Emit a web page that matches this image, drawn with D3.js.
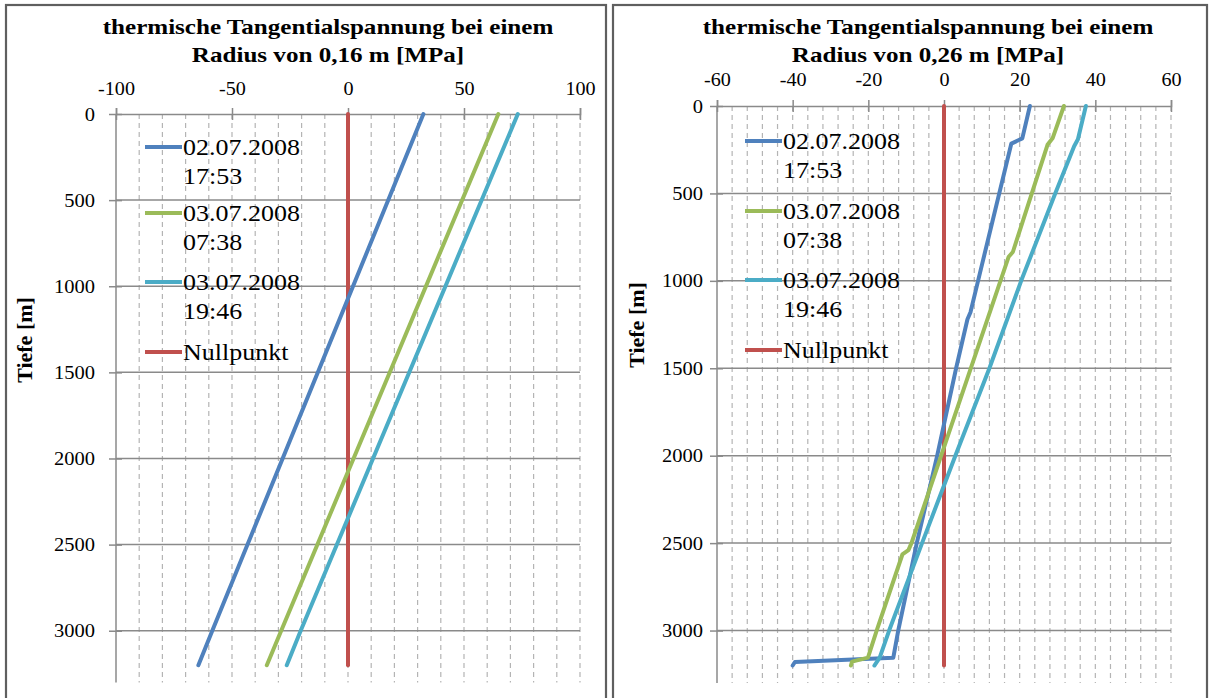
<!DOCTYPE html>
<html>
<head>
<meta charset="utf-8">
<script src="https://cdn.jsdelivr.net/npm/d3@7/dist/d3.min.js"></script>
<style>
  html, body { margin: 0; padding: 0; background: #fff; }
  svg { display: block; }
  text { font-family: "Liberation Serif", "Times New Roman", serif; fill: #000; }
</style>
</head>
<body>
<svg id="chart" width="1212" height="698"></svg>
<script>
// Series names (legend entries, two lines each)
const seriesNames = [["02.07.2008", "17:53"], ["03.07.2008", "07:38"], ["03.07.2008", "19:46"], ["Nullpunkt"]];
const seriesColors = ["#4F81BD", "#9BBB59", "#4BACC6", "#C0504D"];

// Panel titles
const titleLeft = ["thermische Tangentialspannung bei einem", "Radius von 0,16 m [MPa]"];
const titleRight = ["thermische Tangentialspannung bei einem", "Radius von 0,26 m [MPa]"];
const depthTitle = "Tiefe [m]";

// Axis ticks
const xTicksLeft = [-100, -50, 0, 50, 100];
const xTicksRight = [-60, -40, -20, 0, 20, 40, 60];
const depthTicks = [0, 500, 1000, 1500, 2000, 2500, 3000];

// Radius 0,16 m: [depth m, stress MPa]
const r016_s1 = [[0, 32.5], [3000, -58.5], [3200, -64.5]];
const r016_s2 = [[0, 64.8], [3000, -28.8], [3200, -35.0]];
const r016_s3 = [[0, 73.2], [3000, -20.4], [3200, -26.4]];
const r016_null = [[0, 0], [3200, 0]];

// Radius 0,26 m: [depth m, stress MPa]
const r026_s1 = [[0, 22.7], [185, 20.7], [215, 17.8], [1000, 9.0], [1180, 7.0], [1220, 6.2],
                 [1500, 3.2], [2000, -1.8], [2500, -7.2], [3000, -12.1], [3155, -13.4],
                 [3180, -39.4], [3200, -40.0]];
const r026_s2 = [[0, 31.7], [185, 28.7], [220, 27.4], [835, 18.2], [862, 17.1], [2500, -8.6],
                 [2540, -9.4], [2565, -11.0], [3000, -17.8], [3155, -20.1], [3178, -24.3], [3200, -24.6]];
const r026_s3 = [[0, 37.5], [190, 35.4], [230, 34.4], [500, 29.4], [1000, 20.4], [1500, 12.0],
                 [2000, 3.0], [2500, -5.8], [3000, -14.5], [3155, -17.0], [3200, -18.4]];
const r026_null = [[0, 0], [3200, 0]];

// the typeface in this layout runs a little wide
const WIDE = 1.14;

const svg = d3.select("#chart");

// text placed at (x, y) and widened horizontally about its anchor
function wideText(parent, x, y, str, opts) {
  const t = parent.append("text")
    .attr("transform", `translate(${x},${y}) scale(${opts.sx || WIDE},1)`)
    .attr("x", 0).attr("y", 0)
    .attr("font-size", opts.size)
    .attr("text-anchor", opts.anchor || "start")
    .text(str);
  if (opts.bold) t.attr("font-weight", "bold");
  return t;
}

function panel(cfg) {
  const g = svg.append("g");

  // frame
  g.append("rect")
    .attr("x", cfg.frame[0]).attr("y", cfg.frame[1])
    .attr("width", cfg.frame[2]).attr("height", cfg.frame[3])
    .attr("fill", "#fff").attr("stroke", "#5f5f5f").attr("stroke-width", 2.2);

  const x = d3.scaleLinear().domain(cfg.xDomain).range(cfg.xRange);
  const y = d3.scaleLinear().domain([0, 3300]).range(cfg.yRange);

  // minor vertical gridlines (dashed)
  const minor = d3.range(cfg.xDomain[0] + cfg.minorStep, cfg.xDomain[1] + cfg.minorStep / 2, cfg.minorStep);
  g.append("g").selectAll("line").data(minor).join("line")
    .attr("x1", d => x(d)).attr("x2", d => x(d))
    .attr("y1", y(0)).attr("y2", y(3300))
    .attr("stroke", "#b4b4b4").attr("stroke-width", 1.2)
    .attr("stroke-dasharray", "5,4");

  // major horizontal gridlines
  g.append("g").selectAll("line").data(depthTicks.filter(d => d > 0)).join("line")
    .attr("x1", x(cfg.xDomain[0])).attr("x2", x(cfg.xDomain[1]))
    .attr("y1", d => y(d)).attr("y2", d => y(d))
    .attr("stroke", "#8a8a8a").attr("stroke-width", 1.5);

  // top axis
  const xa = g.append("g").attr("transform", `translate(0,${y(0)})`)
    .call(d3.axisTop(x).tickValues(cfg.xTicks).tickSize(6).tickFormat(""));
  xa.select(".domain").attr("stroke", "#8a8a8a").attr("stroke-width", 1.5);
  xa.selectAll(".tick line").attr("y1", -6).attr("y2", 6).attr("stroke", "#8a8a8a").attr("stroke-width", 1.5);
  xa.selectAll(".tick").each(function (d) {
    wideText(d3.select(this), 0, -cfg.xLabelGap, d < 0 ? "-" + Math.abs(d) : String(d),
      { size: 18, anchor: "middle", sx: 1.12 });
  });

  // left axis
  const ya = g.append("g").attr("transform", `translate(${x(cfg.xDomain[0])},0)`)
    .call(d3.axisLeft(y).tickValues(depthTicks).tickSize(7).tickFormat(""));
  ya.select(".domain").attr("stroke", "#8a8a8a").attr("stroke-width", 1.5).attr("d", `M0,${y(0)}V${y(3300)}`);
  ya.selectAll(".tick line").attr("x1", -7).attr("x2", 6).attr("stroke", "#8a8a8a").attr("stroke-width", 1.5);
  ya.selectAll(".tick").each(function (d) {
    wideText(d3.select(this), -cfg.yLabelGap, 6, String(d), { size: 18, anchor: "end", sx: 1.14 });
  });

  // series
  const line = d3.line().x(d => x(d[1])).y(d => y(d[0]));
  const allSeries = [cfg.s1, cfg.s2, cfg.s3, cfg.nul];
  const order = [3, 0, 1, 2];
  order.forEach(i => {
    g.append("path").datum(allSeries[i])
      .attr("d", line)
      .attr("fill", "none")
      .attr("stroke", seriesColors[i])
      .attr("stroke-width", 4)
      .attr("stroke-linejoin", "round")
      .attr("stroke-linecap", "round");
  });

  // title
  cfg.title.forEach((s, i) => {
    wideText(g, cfg.titleX, cfg.titleY + i * 28, s, { size: 22, anchor: "middle", bold: true, sx: 1.14 });
  });

  // depth axis title
  g.append("text")
    .attr("transform", `translate(${cfg.yTitle[0]},${cfg.yTitle[1]}) rotate(-90)`)
    .attr("text-anchor", "middle").attr("font-weight", "bold").attr("font-size", 22)
    .text(depthTitle);

  // legend
  seriesNames.forEach((name, i) => {
    const ly = cfg.legend[1] + cfg.legendRows[i];
    g.append("line")
      .attr("x1", cfg.legend[0]).attr("x2", cfg.legend[0] + 37)
      .attr("y1", ly).attr("y2", ly)
      .attr("stroke", seriesColors[i]).attr("stroke-width", 4);
    name.forEach((s, k) => {
      wideText(g, cfg.legend[0] + 38, ly + 8 + k * 29, s, { size: 23, sx: 1.13 });
    });
  });
}

panel({
  frame: [6, 5, 600, 720],
  xDomain: [-100, 100], xRange: [116, 580], yRange: [114, 682.4],
  minorStep: 10, xTicks: xTicksLeft, xLabelGap: 19, yLabelGap: 21,
  s1: r016_s1, s2: r016_s2, s3: r016_s3, nul: r016_null,
  title: titleLeft, titleX: 328, titleY: 34,
  yTitle: [32, 340],
  legend: [145, 147], legendRows: [0, 66, 135, 205]
});

panel({
  frame: [613, 5, 594, 720],
  xDomain: [-60, 60], xRange: [717, 1171], yRange: [106, 683],
  minorStep: 4, xTicks: xTicksRight, xLabelGap: 20, yLabelGap: 14,
  s1: r026_s1, s2: r026_s2, s3: r026_s3, nul: r026_null,
  title: titleRight, titleX: 928, titleY: 34,
  yTitle: [644, 325],
  legend: [745, 141], legendRows: [0, 70, 139, 209]
});
</script>
</body>
</html>
